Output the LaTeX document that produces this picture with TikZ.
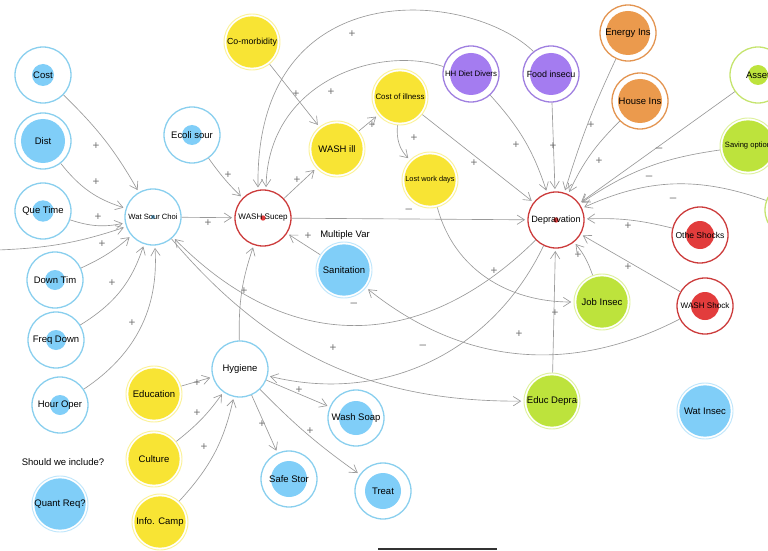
\documentclass[tikz,border=0pt]{standalone}
\usepackage{fontspec}
\setmainfont{Liberation Sans}
\usetikzlibrary{arrows.meta}

\definecolor{cblue}{HTML}{80CEF8}
\definecolor{cblueln}{HTML}{89CFEE}
\definecolor{cyel}{HTML}{F8E434}
\definecolor{cred}{HTML}{E23C3C}
\definecolor{credln}{HTML}{CC3B3B}
\definecolor{cpur}{HTML}{A47CF0}
\definecolor{cpurln}{HTML}{9F7FE0}
\definecolor{corg}{HTML}{EB9A4D}
\definecolor{corgln}{HTML}{E39450}
\definecolor{cgrn}{HTML}{BDE33C}
\definecolor{cgrnln}{HTML}{C5E46E}
\definecolor{clink}{HTML}{999999}

\tikzset{
	cnode/.style n args={3}{circle, draw=#1, line width=1.1pt, fill=white,
		minimum size=1.68cm, inner sep=0pt, align=center,
		font=\fontsize{8.1}{9.5}\selectfont,
		path picture={\fill[#2] (path picture bounding box.center) circle (#3);}},
	fnode/.style={cnode={#1!50!white}{#1}{0.77cm}, line width=0.8pt},
	fs/.style={font=\fontsize{#1}{#1}\selectfont},
	link/.style={draw=clink, line width=0.55pt, shorten >=2pt,
		-{Straight Barb[length=2.2mm,width=2.8mm]}},
	pol/.style={text=black!55, font=\fontsize{10}{10}\selectfont, inner sep=0pt},
	note/.style={font=\fontsize{8.1}{9.5}\selectfont, inner sep=0pt},
}

\begin{document}
\begin{tikzpicture}[x=0.03cm, y=0.03cm]
	\useasboundingbox (0,0) rectangle (768,550);
	\clip (0,0) rectangle (768,550);

	% water source
	\node[cnode={cblueln}{cblue}{0.33cm}] (cost) at (43,475) {Cost};
	\node[cnode={cblueln}{cblue}{0.66cm}] (dist) at (43,409) {Dist};
	\node[cnode={cblueln}{cblue}{0.32cm}] (que) at (43,339) {Que Time};
	\node[cnode={cblueln}{cblue}{0.3cm}] (down) at (55,270) {Down Tim};
	\node[cnode={cblueln}{cblue}{0.3cm}] (freq) at (56,210) {Freq Down};
	\node[cnode={cblueln}{cblue}{0.3cm}] (hour) at (60,145) {Hour Oper};
	\node[fnode=cblue] (quant) at (60,46) {Quant Req?};
	\node[note] (include) at (63,88) {Should we include?};
	\coordinate (offl) at (-2,300);
	\node[cnode={cblueln}{cblue}{0.06cm}, fs=6.5] (wsc) at (153,333) {Wat Sour Choi};
	\node[cnode={cblueln}{cblue}{0.3cm}] (ecoli) at (192,415) {Ecoli sour};

	% illness
	\node[cnode={credln}{cred}{0.08cm}, fs=6.9] (wsus) at (263,332) {WASH Sucep};
	\node[fnode=cyel, fs=7.5] (comorb) at (252,508) {Co-morbidity};
	\node[fnode=cyel] (washill) at (337,401) {WASH ill};
	\node[fnode=cyel, fs=6.7] (costill) at (400,453) {Cost of illness};
	\node[fnode=cyel, fs=6.3] (lostwork) at (430,370) {Lost work days};

	% deprivation
	\node[cnode={cpurln}{cpur}{0.63cm}, fs=6.7] (hhdiet) at (471,476) {HH Diet Divers};
	\node[cnode={cpurln}{cpur}{0.63cm}, fs=7.6] (food) at (551,476) {Food insecu};
	\node[cnode={corgln}{corg}{0.66cm}] (energy) at (628,517) {Energy Ins};
	\node[cnode={corgln}{corg}{0.66cm}] (house) at (640,449) {House Ins};
	\node[cnode={cgrnln}{cgrn}{0.3cm}] (asset) at (758,475) {Asset};
	\node[fnode=cgrn, fs=6.5] (saving) at (748,404) {Saving option};
	\node[cnode={cgrnln}{cgrn}{0.3cm}] (rgreen) at (793,340) {};
	\node[cnode={credln}{cred}{0.08cm}, fs=7.8] (dep) at (556,330) {Depravation};
	\node[cnode={credln}{cred}{0.42cm}, fs=7.3] (othe) at (700,315) {Othe Shocks};
	\node[cnode={credln}{cred}{0.42cm}, fs=6.9] (washshock) at (705,244) {WASH Shock};
	\node[fnode=cgrn] (job) at (602,248) {Job Insec};
	\node[fnode=cgrn] (educ) at (552,149) {Educ Depra};
	\node[fnode=cblue] (watinsec) at (705,139) {Wat Insec};

	% sanitation and hygiene
	\node[fnode=cblue] (sanit) at (344,280) {Sanitation};
	\node[note] (multi) at (345,315) {Multiple Var};
	\node[cnode={cblueln}{white}{0cm}] (hyg) at (240,181) {Hygiene};
	\node[fnode=cyel] (educa) at (154,156) {Education};
	\node[fnode=cyel] (culture) at (154,91) {Culture};
	\node[fnode=cyel] (info) at (160,28) {Info. Camp};
	\node[cnode={cblueln}{cblue}{0.51cm}] (soap) at (356,132) {Wash Soap};
	\node[cnode={cblueln}{cblue}{0.54cm}] (safe) at (289,71) {Safe Stor};
	\node[cnode={cblueln}{cblue}{0.54cm}] (treat) at (383,59) {Treat};

	\draw[link] (cost) to[bend left=8] (wsc);
	\draw[link] (dist) to[bend right=17] (wsc);
	\draw[link] (que) to[bend right=15] (wsc);
	\draw[link] (offl) to[bend right=8] (wsc);
	\draw[link] (down) to[bend right=8] (wsc);
	\draw[link] (freq) to[bend right=20] (wsc);
	\draw[link] (hour) to[bend right=30] (wsc);
	\draw[link] (ecoli) to[bend right=5] (wsus);
	\draw[link] (wsc) -- (wsus);
	\draw[link] (comorb) -- (washill);
	\draw[link] (wsus) -- (washill);
	\draw[link] (washill) -- (costill);
	\draw[link] (costill) to[bend right=25] (lostwork);
	\draw[link] (food.128) .. controls (470,560) and (255,580) .. (wsus.100);
	\draw[link] (hhdiet.165) .. controls (380,505) and (268,470) .. (wsus.84);
	\draw[link] (costill) -- (dep);
	\draw[link] (wsus) -- (dep);
	\draw[link] (lostwork) to[out=-75, in=180] (job);
	\draw[link] (hhdiet) to[bend left=12] (dep);
	\draw[link] (food) -- (dep);
	\draw[link] (energy) to[bend right=4] (dep);
	\draw[link] (house) to[bend right=10] (dep);
	\draw[link] (asset) -- (dep);
	\draw[link] (saving) to[bend right=13] (dep);
	\draw[link] (rgreen) to[bend right=22] (dep);
	\draw[link] (othe) to[bend right=8] (dep);
	\draw[link] (washshock) -- (dep);
	\draw[link] (job) to[bend right=10] (dep);
	\draw[link] (educ) -- (dep);
	\draw[link] (dep) to[bend left=45, looseness=1.15] (wsc);
	\draw[link] (dep) to[bend left=39] (hyg);
	\draw[link] (wsc) to[bend right=25] (educ);
	\draw[link] (washshock) to[bend left=33] (sanit);
	\draw[link] (hyg) to[bend left=10] (wsus);
	\draw[link] (sanit) -- (wsus);
	\draw[link] (educa) -- (hyg);
	\draw[link] (culture) to[bend right=8] (hyg);
	\draw[link] (info) to[bend right=15] (hyg);
	\draw[link] (hyg) -- (soap);
	\draw[link] (hyg) -- (safe);
	\draw[link] (hyg) to[bend right=5] (treat);

	\foreach \px/\py/\s [count=\i] in {96/404/+, 96/368/+, 98/333/+, 102/306/+,
		112/267/+, 132/227/+, 228/375/+, 208/327/+, 296/456/+, 331/458/+,
		352/516/+, 297/370/+, 372/425/+, 414/412/+, 474/387/+, 409/339/–,
		516/405/+, 553/404/+, 591/425/+, 599/389/+, 659/400/–, 649/372/–,
		673/350/–, 628/324/+, 628/283/+, 578/295/+, 555/237/+, 494/279/+,
		519/216/+, 354/245/–, 423/203/–, 333/202/+, 244/259/+, 308/314/+,
		197/167/+, 197/137/+, 204/103/+, 299/160/+, 262/126/+, 310/119/+}
		\node[pol] (pol\i) at (\px,\py) {\s};

	\fill[black!80] (378,0) rectangle (497,2.5);
\end{tikzpicture}
\end{document}
